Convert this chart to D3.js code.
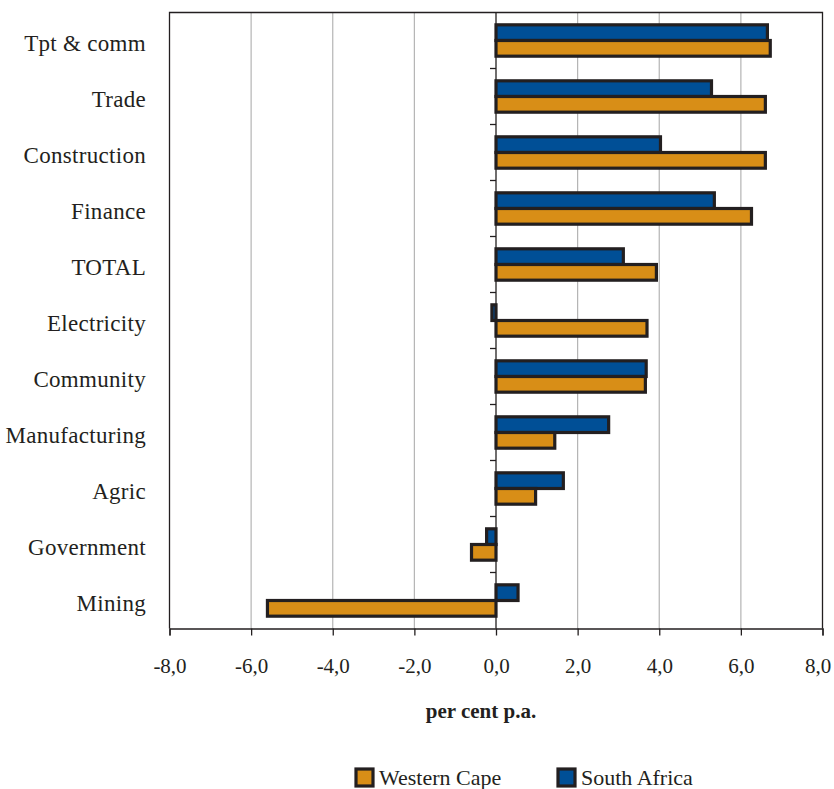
<!DOCTYPE html>
<html>
<head>
<meta charset="utf-8">
<script src="https://cdn.jsdelivr.net/npm/d3@7/dist/d3.min.js"></script>
<style>
  html, body { margin: 0; padding: 0; background: #fff; }
  svg { display: block; }
  text { font-family: "Liberation Serif", "Times New Roman", serif; fill: #231f20; }
</style>
</head>
<body>
<svg id="chart" width="834" height="789"></svg>
<script>
// Sectors, top to bottom
const categories = ["Tpt & comm", "Trade", "Construction", "Finance", "TOTAL",
  "Electricity", "Community", "Manufacturing", "Agric", "Government", "Mining"];
// Growth, per cent per annum
const southAfrica  = [6.65, 5.28, 4.03, 5.35, 3.12, -0.1, 3.68, 2.76, 1.65, -0.23, 0.54];
const westernCape  = [6.72, 6.6, 6.6, 6.26, 3.93, 3.7, 3.66, 1.44, 0.97, -0.6, -5.6];
const xTicks = [-8, -6, -4, -2, 0, 2, 4, 6, 8];
const seriesNames = ["South Africa", "Western Cape"];
const legendOrder = ["Western Cape", "South Africa"];
const colours = { "South Africa": "#004f96", "Western Cape": "#d88e17" };
const ink = "#231f20";

const svg = d3.select("#chart");
const plot = { left: 169.5, right: 822.5, top: 12.5, bottom: 628.5 };

const x = d3.scaleLinear().domain([-8, 8]).range([plot.left, plot.right]);
const y = d3.scaleBand().domain(categories).range([plot.top, plot.bottom]);
const inner = d3.scaleBand().domain(seriesNames)
  .range([y.bandwidth() * 0.22, y.bandwidth() * 0.78]);

const fmt = v => d3.format(".1f")(v).replace(".", ",").replace("−", "-");

// vertical gridlines
svg.append("g").selectAll("line")
  .data(xTicks.filter(t => t !== 0 && Math.abs(t) !== 8))
  .join("line")
  .attr("x1", d => x(d)).attr("x2", d => x(d))
  .attr("y1", plot.top).attr("y2", plot.bottom)
  .attr("stroke", "#b4b4b4").attr("stroke-width", 1.2);

// plot frame (left, top, right)
svg.append("path")
  .attr("d", `M${plot.left},${plot.bottom}V${plot.top}H${plot.right}V${plot.bottom}`)
  .attr("fill", "none").attr("stroke", ink).attr("stroke-width", 1.3);

// bottom axis
const xAxis = svg.append("g")
  .attr("transform", `translate(0,${plot.bottom})`)
  .call(d3.axisBottom(x).tickValues(xTicks).tickFormat(fmt).tickSize(7).tickPadding(23));
xAxis.select(".domain").attr("stroke", ink).attr("stroke-width", 1.3);
xAxis.selectAll(".tick line").attr("stroke", ink).attr("stroke-width", 1.3);
xAxis.selectAll(".tick text")
  .attr("font-family", "Liberation Serif, serif")
  .attr("font-size", 21).attr("fill", ink)
  // keep the last label inside the page edge
  .attr("dx", d => d === 8 ? -5 : 0);

// bars
const groups = svg.append("g").selectAll("g")
  .data(categories.map((c, i) => ({ c, vals: [
    { s: "South Africa", v: southAfrica[i] },
    { s: "Western Cape", v: westernCape[i] }] })))
  .join("g")
  .attr("transform", d => `translate(0,${y(d.c)})`);

groups.selectAll("rect")
  .data(d => d.vals)
  .join("rect")
  .attr("x", d => Math.min(x(0), x(d.v)))
  .attr("width", d => Math.abs(x(d.v) - x(0)))
  .attr("y", d => inner(d.s))
  .attr("height", inner.bandwidth())
  .attr("fill", d => colours[d.s])
  .attr("stroke", ink).attr("stroke-width", 3.2);

// zero axis with category ticks
const zero = svg.append("g").attr("transform", `translate(${x(0)},0)`);
zero.append("line")
  .attr("y1", plot.top).attr("y2", plot.bottom)
  .attr("stroke", ink).attr("stroke-width", 1.3);
zero.selectAll("line.tick")
  .data(categories.slice(1))
  .join("line").attr("class", "tick")
  .attr("x1", -6).attr("x2", 0)
  .attr("y1", d => y(d)).attr("y2", d => y(d))
  .attr("stroke", ink).attr("stroke-width", 1.3);

// category labels
svg.append("g").selectAll("text")
  .data(categories)
  .join("text")
  .attr("x", 146)
  .attr("y", d => y(d) + y.bandwidth() / 2 + 10)
  .attr("text-anchor", "end")
  .attr("font-size", 23)
  .attr("letter-spacing", 0.3)
  .text(d => d);

// axis title
svg.append("text")
  .attr("x", 481).attr("y", 718)
  .attr("text-anchor", "middle")
  .attr("font-size", 21).attr("font-weight", "bold")
  .text("per cent p.a.");

// legend
const legend = svg.append("g").selectAll("g")
  .data(legendOrder)
  .join("g")
  .attr("transform", (d, i) => `translate(${[356, 558][i]},769)`);
legend.append("rect")
  .attr("width", 17).attr("height", 17)
  .attr("fill", d => colours[d])
  .attr("stroke", ink).attr("stroke-width", 3.2);
legend.append("text")
  .attr("x", 23).attr("y", 16)
  .attr("font-size", 22)
  .text(d => d);
</script>
</body>
</html>
